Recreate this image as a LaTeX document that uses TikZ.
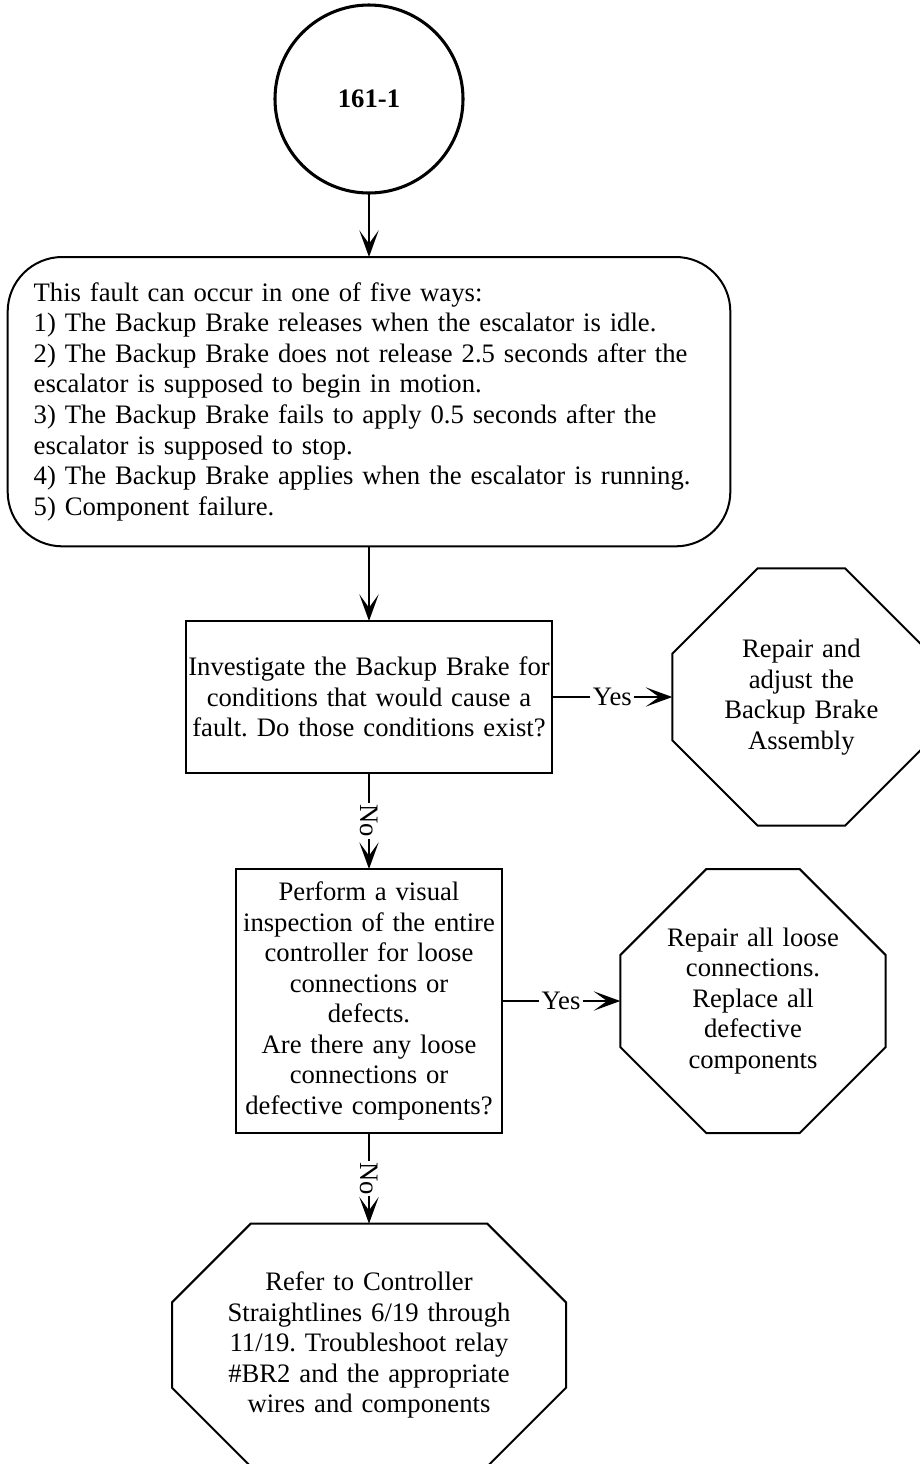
\documentclass[tikz,border=0pt]{standalone}
\usepackage{fontspec}
\setmainfont{Liberation Serif}
\usetikzlibrary{arrows.meta, positioning, calc}

\begin{document}
\frenchspacing
\begin{tikzpicture}[every node/.style={font=\fontsize{20}{22.9}\selectfont},
  flow/.style={line width=1.5pt, -{Stealth[length=20pt, width=14.5pt, inset=10pt]}},
  box/.style={draw, line width=1.5pt, align=center, inner xsep=0pt, inner ysep=3pt, outer sep=0pt},
  stopbox/.style={align=center, outer sep=0pt, inner sep=0pt}]
\useasboundingbox (0,0) rectangle (690pt,-1098pt);
% Sequence
\node[draw, circle, line width=2.3pt, outer sep=0pt, minimum size=141pt, font=\fontsize{20}{22.9}\selectfont\bfseries] (Start) at (276.75pt,-74.25pt) {161-1};
\node[box, rounded corners=41pt, align=left, text width=503pt, inner xsep=19.5pt, minimum height=217pt, below=48pt of Start] (Faults) {This fault can occur in one of five ways:\\
1) The Backup Brake releases when the escalator is idle.\\
2) The Backup Brake does not release 2.5 seconds after the\\
escalator is supposed to begin in motion.\\
3) The Backup Brake fails to apply 0.5 seconds after the\\
escalator is supposed to stop.\\
4) The Backup Brake applies when the escalator is running.\\
5) Component failure.};
\node[box, text width=275pt, minimum height=114pt, below=56pt of Faults] (Investigate) {Investigate the Backup Brake for\\conditions that would cause a\\fault. Do those conditions exist?};
\node[box, text width=199pt, minimum height=198pt, below=72pt of Investigate] (Inspect) {Perform a visual\\inspection of the entire\\controller for loose\\connections or\\defects.\\Are there any loose\\connections or\\defective components?};
% Outcomes
\node[stopbox, text width=150pt, minimum width=193.5pt, minimum height=193pt, right=90pt of Investigate] (FixBrake) {Repair and\\adjust the\\Backup Brake\\Assembly};
\node[stopbox, text width=150pt, minimum width=199pt, minimum height=198pt, right=89pt of Inspect] (FixWiring) {Repair all loose\\connections.\\Replace all\\defective\\components};
\node[stopbox, text width=240pt, minimum width=295.5pt, minimum height=182pt, below=68pt of Inspect] (Refer) {Refer to Controller\\Straightlines 6/19 through\\11/19. Troubleshoot relay\\\#BR2 and the appropriate\\wires and components};
% Octagon outlines
\foreach \n/\c in {FixBrake/64pt, FixWiring/64.5pt, Refer/59pt}
  \draw[line width=1.5pt] ($(\n.north west)+(\c,0)$) -- ($(\n.north east)+(-\c,0)$) -- ($(\n.north east)+(0,-\c)$) -- ($(\n.south east)+(0,\c)$) -- ($(\n.south east)+(-\c,0)$) -- ($(\n.south west)+(\c,0)$) -- ($(\n.south west)+(0,\c)$) -- ($(\n.north west)+(0,-\c)$) -- cycle;
% Arrows
\draw[flow] (Start) -- (Faults);
\draw[flow] (Faults) -- (Investigate);
\draw[flow] (Investigate) -- node[fill=white, rotate=-90, inner sep=1pt]{No} (Inspect);
\draw[flow] (Investigate) -- node[fill=white, inner sep=2pt]{Yes} (FixBrake);
\draw[flow] (Inspect) -- node[fill=white, rotate=-90, inner sep=1pt]{No} (Refer);
\draw[flow] (Inspect) -- node[fill=white, inner sep=2pt]{Yes} (FixWiring);
\end{tikzpicture}
\end{document}
